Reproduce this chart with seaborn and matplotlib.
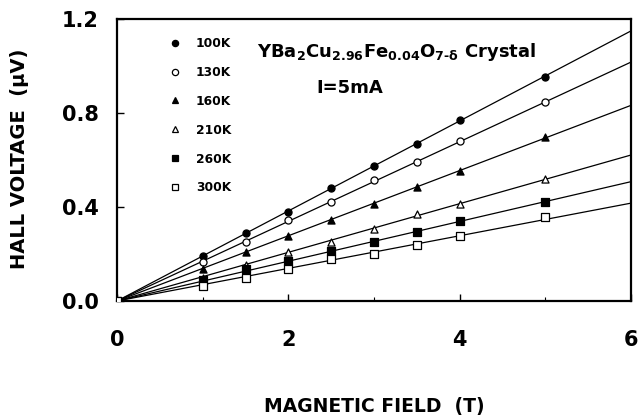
import numpy as np
import pandas as pd
import matplotlib
matplotlib.use("Agg")
import matplotlib.pyplot as plt
from matplotlib.lines import Line2D
import seaborn as sns

field = [0, 1, 1.5, 2, 2.5, 3, 3.5, 4, 5]
temps = ["100K", "130K", "160K", "210K", "260K", "300K"]
v100 = [0, 0.19, 0.29, 0.38, 0.48, 0.575, 0.67, 0.77, 0.955]
v130 = [0, 0.165, 0.25, 0.345, 0.42, 0.515, 0.59, 0.68, 0.845]
v160 = [0, 0.135, 0.207, 0.277, 0.345, 0.413, 0.485, 0.553, 0.70]
v210 = [0, 0.10, 0.155, 0.21, 0.25, 0.306, 0.37, 0.413, 0.52]
v260 = [0, 0.09, 0.135, 0.172, 0.213, 0.251, 0.294, 0.34, 0.42]
v300 = [0, 0.062, 0.10, 0.136, 0.179, 0.20, 0.238, 0.277, 0.357]
series = [v100, v130, v160, v210, v260, v300]
xticks = [0, 2, 4, 6]
yticks = [0.0, 0.4, 0.8, 1.2]

markers = ["o", "o", "^", "^", "s", "s"]
faces = ["black", "white", "black", "white", "black", "white"]

sns.set_style("ticks")
plt.rcParams["font.family"] = ["DejaVu Sans"]
plt.rcParams["font.weight"] = "bold"
plt.rcParams["mathtext.fontset"] = "custom"
plt.rcParams["mathtext.rm"] = "DejaVu Sans:bold"
plt.rcParams["mathtext.it"] = "DejaVu Sans:bold"
plt.rcParams["mathtext.bf"] = "DejaVu Sans:bold"
for key in ["text.color", "axes.labelcolor", "xtick.color", "ytick.color",
            "axes.edgecolor"]:
    plt.rcParams[key] = "black"

fig = plt.figure(figsize=(6.43, 4.17), dpi=100)
ax = fig.add_axes([117 / 643, 1 - 301 / 417, 514 / 643, 282 / 417])

fx = np.array(field)
handles = []
for t, v, m, fc in zip(temps, series, markers, faces):
    vy = np.array(v)
    slope = np.sum(fx * vy) / np.sum(fx * fx)
    line_df = pd.DataFrame({"x": [0, 6], "y": [0, 6 * slope]})
    sns.lineplot(data=line_df, x="x", y="y", ax=ax, color="black", lw=0.9, zorder=2)
    pts = pd.DataFrame({"x": field, "y": v})
    sns.scatterplot(data=pts, x="x", y="y", ax=ax, marker=m, s=26,
                    facecolor=fc, edgecolor="black", linewidth=0.9, zorder=3)
    handles.append(Line2D([], [], marker=m, ls="none", markersize=4.5,
                          markerfacecolor=fc, markeredgecolor="black",
                          markeredgewidth=0.9, label=t))

ax.set_xlim(0, 6)
ax.set_ylim(0, 1.2)
ax.set_xticks(xticks)
ax.set_xticks([1, 3, 5], minor=True)
ax.set_yticks(yticks)
ax.set_xticklabels([str(x) for x in xticks], fontsize=15, fontweight="bold")
ax.set_yticklabels([f"{y:.1f}" for y in yticks], fontsize=15, fontweight="bold")
ax.tick_params(axis="both", which="major", direction="in", length=5, width=1,
               colors="black")
ax.tick_params(axis="x", which="major", pad=21)
ax.tick_params(axis="y", which="major", pad=13)
ax.tick_params(axis="x", which="minor", direction="in", length=3, width=0.8)
for s in ax.spines.values():
    s.set_visible(True)
    s.set_linewidth(1.6)
    s.set_color("black")

ax.set_xlabel("MAGNETIC FIELD  (T)", fontsize=13.5, fontweight="bold")
ax.set_ylabel("HALL VOLTAGE  (\u03bcV)", fontsize=14, fontweight="bold")
ax.xaxis.set_label_coords(0.5, -0.34)
ax.yaxis.set_label_coords(-0.172, 0.505)

leg = ax.legend(handles=handles, loc="upper left", bbox_to_anchor=(0.089, 0.958),
                frameon=False, fontsize=8.8, labelspacing=1.3,
                handlelength=1.0, handletextpad=1.2, borderpad=0)
for txt in leg.get_texts():
    txt.set_fontweight("bold")

ax.text(0.545, 0.883, r"YBa$_2$Cu$_{2.96}$Fe$_{0.04}$O$_{7\text{-}\delta}$ Crystal",
        transform=ax.transAxes, ha="center", va="center", fontsize=13,
        fontweight="bold")
ax.text(0.453, 0.755, "I=5mA", transform=ax.transAxes, ha="center", va="center",
        fontsize=13, fontweight="bold")

fig.savefig("out.png", dpi=100)
